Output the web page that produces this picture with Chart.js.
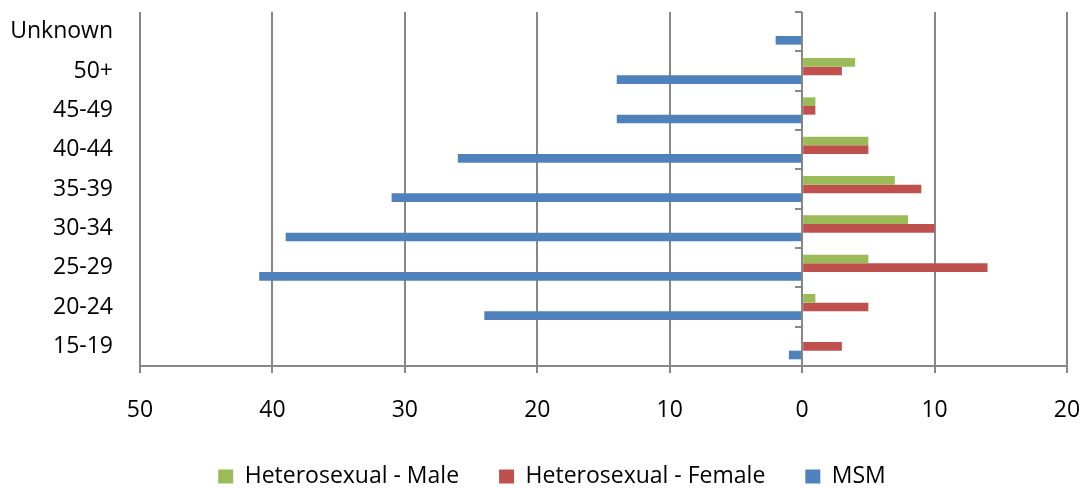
<!DOCTYPE html>
<html>
<head>
<meta charset="utf-8">
<script src="https://cdn.jsdelivr.net/npm/chart.js@4/dist/chart.umd.min.js"></script>
<style>
  body { margin: 0; background: #fff; }
  #wrap { width: 1084px; height: 488px; }
</style>
</head>
<body>
<div id="wrap"><canvas id="chart" width="1084" height="488"></canvas></div>
<script>
// age groups, top to bottom
const ageGroups = ["Unknown", "50+", "45-49", "40-44", "35-39", "30-34", "25-29", "20-24", "15-19"];
const heteroMale = [0, 4, 1, 5, 7, 8, 5, 1, 0];
const heteroFemale = [0, 3, 1, 5, 9, 10, 14, 5, 3];
// MSM is drawn to the left, so negative
const msm = [-2, -14, -14, -26, -31, -39, -41, -24, -1];
const xTicks = [-50, -40, -30, -20, -10, 0, 10, 20];

const gridGray = "#878787";
const font = { family: "'Open Sans'", size: 23 };

const ctx = document.getElementById("chart").getContext("2d");
new Chart(ctx, {
  type: "bar",
  data: {
    labels: ageGroups,
    datasets: [
      { label: "Heterosexual - Male", data: heteroMale, backgroundColor: "#9BBB59" },
      { label: "Heterosexual - Female", data: heteroFemale, backgroundColor: "#C0504D" },
      { label: "MSM", data: msm, backgroundColor: "#4F81BD" }
    ]
  },
  options: {
    indexAxis: "y",
    responsive: false,
    animation: false,
    categoryPercentage: 0.66,
    barPercentage: 1,
    // negative right/bottom so the legend sits like in the original
    layout: { padding: { top: 12, right: -20, left: 0, bottom: -10 } },
    scales: {
      x: {
        min: xTicks[0],
        max: xTicks[xTicks.length - 1],
        afterBuildTicks: function(axis) {
          axis.ticks = xTicks.map(v => ({ value: v }));
        },
        afterFit: function(axis) {
          axis.height = 59;
          axis.paddingRight = 17;
        },
        ticks: {
          color: "#000",
          font: font,
          padding: 24,
          callback: function(value) { return Math.abs(value); }
        },
        grid: { color: gridGray, lineWidth: 2, tickLength: 7 },
        border: { color: gridGray, width: 2 }
      },
      y: {
        afterFit: function(axis) { axis.width = 140; },
        ticks: { color: "#000", font: { family: "'Open Sans'", size: 23, lineHeight: 1 }, padding: 0 },
        // grid hidden, tick length only used as the label gap
        grid: { display: false, drawTicks: true, tickLength: 27 },
        border: { display: false }
      },
      // small tick marks on the zero line
      y2: {
        type: "category",
        axis: "y",
        position: { x: 0 },
        offset: true,
        afterFit: function(axis) { axis.width = 0; },
        ticks: { display: false },
        grid: { offset: true, drawOnChartArea: false, tickLength: 7, color: gridGray, lineWidth: 2 },
        border: { display: false }
      }
    },
    plugins: {
      legend: {
        position: "bottom",
        labels: {
          color: "#000",
          font: font,
          boxWidth: 15,
          boxHeight: 14,
          padding: 40
        }
      },
      tooltip: { enabled: false }
    }
  }
});
</script>
</body>
</html>
